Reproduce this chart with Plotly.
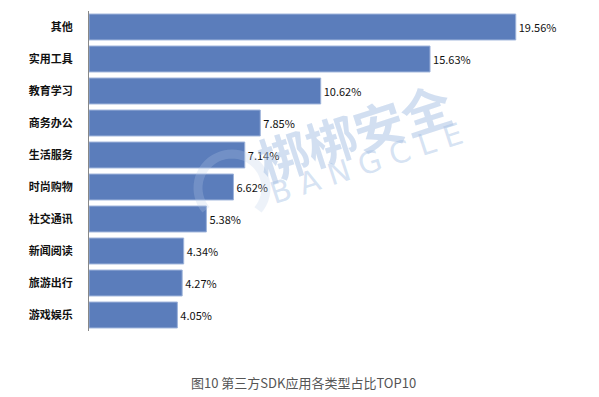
import math
import plotly.graph_objects as go

categories = ["其他", "实用工具", "教育学习", "商务办公", "生活服务", "时尚购物", "社交通讯", "新闻阅读", "旅游出行", "游戏娱乐"]
values = [19.56, 15.63, 10.62, 7.85, 7.14, 6.62, 5.38, 4.34, 4.27, 4.05]
value_labels = [f"{v:.2f}%" for v in values]
caption = "图10 第三方SDK应用各类型占比TOP10"

FONT = "Noto Sans CJK SC"
OFF = 8  # page body margin
FW, FH = 599 - OFF, 397 - OFF
L, T, W, H = 89 - OFF, 11 - OFF, 480, 320

def px(x):
    return (x - OFF - L) / W

def py(y):
    return (T + H - (y - OFF)) / H

fig = go.Figure()
fig.add_trace(go.Bar(
    y=categories,
    x=values,
    orientation="h",
    marker=dict(color="#5B7DBB", line=dict(color="#9DB3DA", width=1)),
    text=value_labels,
    textposition="outside",
    textfont=dict(family=FONT, size=11, color="#111111"),
    cliponaxis=False,
))

# watermark logo arc (faint)
cx, cy, r = 232, 188, 34
pts = []
for i in range(0, 41):
    a = math.radians(-40 + i * 6.5)
    pts.append((px(cx + r * math.cos(a)), py(cy - r * math.sin(a))))
path = "M " + " L ".join(f"{x:.4f},{y:.4f}" for x, y in pts)
fig.add_shape(type="path", path=path, xref="paper", yref="paper",
              line=dict(color="rgba(185,205,232,0.25)", width=9), layer="above")

# watermark text
fig.add_annotation(xref="paper", yref="paper", x=px(354), y=py(131),
                   text="<b>梆梆安全</b>", showarrow=False, textangle=-18,
                   font=dict(family=FONT, size=50, color="rgba(165,192,228,0.5)"))
fig.add_annotation(xref="paper", yref="paper", x=px(366), y=py(163),
                   text="B A N G C L E", showarrow=False, textangle=-18,
                   font=dict(family="DejaVu Sans", size=30, color="rgba(165,192,228,0.45)"))

fig.add_annotation(xref="paper", yref="paper", x=px(303), y=py(382),
                   text=caption, showarrow=False, xanchor="center", yanchor="middle",
                   font=dict(family=FONT, size=13, color="#555555"))

fig.update_layout(
    width=FW, height=FH,
    margin=dict(l=L, r=FW - L - W, t=T, b=FH - T - H, autoexpand=False),
    paper_bgcolor="white", plot_bgcolor="white",
    showlegend=False,
    bargap=0.19,
    font=dict(family=FONT),
)
fig.update_xaxes(range=[0, 22], visible=False, showgrid=False, zeroline=False, automargin=False)
fig.update_yaxes(autorange="reversed", showgrid=False, zeroline=False, automargin=False,
                 showline=True, linecolor="#888888", linewidth=1,
                 ticks="", ticklabelstandoff=13,
                 tickfont=dict(family=FONT, size=11, color="#111111", weight="bold"))

fig.write_html("out.html")
